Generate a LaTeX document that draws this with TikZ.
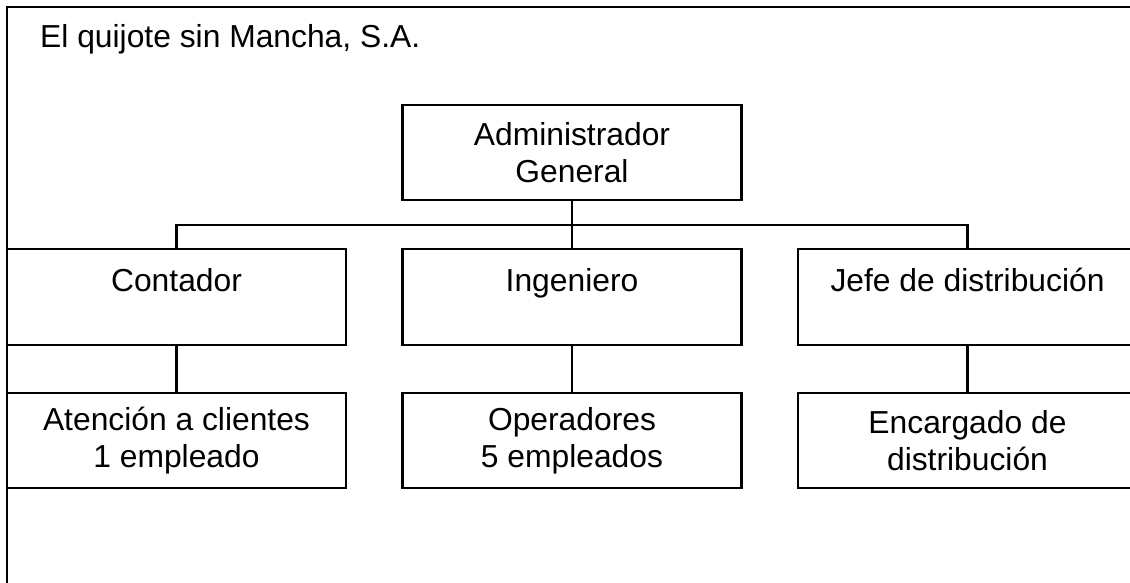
\documentclass[tikz,border=0pt]{standalone}
\usepackage{fontspec}
\setmainfont{Liberation Sans}
\begin{document}
\begin{tikzpicture}[x=1pt,y=-1pt,
  every node/.style={font=\fontsize{31.8}{37}\selectfont},
  box/.style={draw, line width=2.4pt, inner sep=0pt, minimum width=339pt, align=center},
  toprow/.style={box, text height=42pt, text depth=54pt},
  lowrow/.style={box, minimum height=95pt},
  link/.style={line width=2.2pt}]
\useasboundingbox (0,0) rectangle (1130,583);
\begin{scope}
\clip (0,0) rectangle (1130,583);
\draw[line width=2.4pt] (1200,7) -- (7,7) -- (7,650);
\node[anchor=base west, inner sep=0pt] (title) at (40,48) {El quijote sin Mancha, S.A.};
\node[lowrow] (adm) at (572,152.5) {Administrador\\General};
\node[toprow] (c) at (176.5,297) {Contador};
\node[toprow] (i) at (572,297) {Ingeniero};
\node[toprow] (j) at (967.5,297) {Jefe de distribución};
\node[lowrow] (ca) at (176.5,440.5) {Atención a clientes\\1 empleado};
\node[lowrow] (io) at (572,440.5) {Operadores\\5 empleados};
\node[lowrow] (je) at (967.5,440.5) {Encargado de\\distribución};
\coordinate (bus) at (572,225);
\draw[link] (adm.south) -- (bus);
\draw[link] (c.north) |- (bus) -| (j.north);
\draw[link] (bus) -- (i.north);
\draw[link] (c.south) -- (ca.north);
\draw[link] (i.south) -- (io.north);
\draw[link] (j.south) -- (je.north);
\end{scope}
\end{tikzpicture}
\end{document}
